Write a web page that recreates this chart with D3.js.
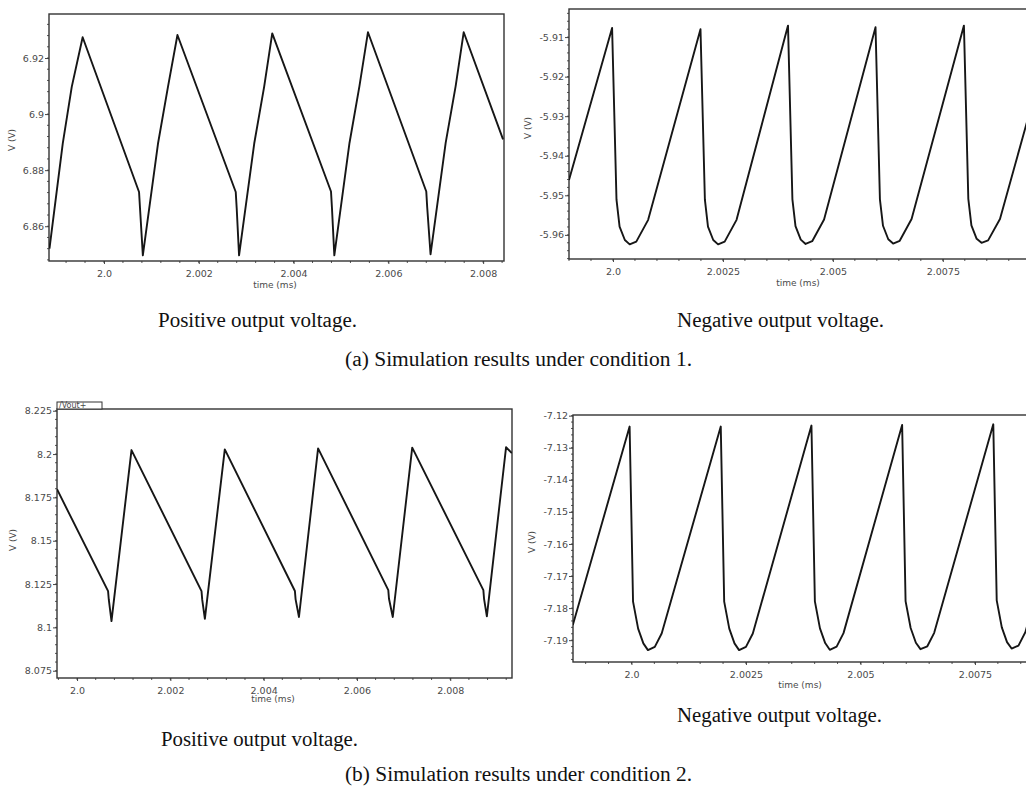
<!DOCTYPE html>
<html>
<head>
<meta charset="utf-8">
<script src="https://cdn.jsdelivr.net/npm/d3@7.9.0/dist/d3.min.js"></script>
<style>
  body { margin: 0; background: #fff; }
  svg { display: block; }
  .tick text { font-family: "DejaVu Sans", sans-serif; font-size: 9.5px; fill: #4a4a4a; }
  .tick line { stroke: #444; }
  .axis-title { font-family: "DejaVu Sans", sans-serif; font-size: 9px; fill: #4a4a4a; }
  .caption { font-family: "Liberation Serif", "Times New Roman", serif; font-size: 20px; fill: #111; }
</style>
</head>
<body>
<svg id="fig" width="1026" height="787"></svg>
<script>
// (a) condition 1, positive output (time in ms, volts)
const posTime1 = [1.99885, 1.99913, 1.99932, 1.99955, 2.00074, 2.00076, 2.00082, 2.00114, 2.00135, 2.00155,
  2.00278, 2.00280, 2.00285, 2.00317, 2.00338, 2.00355, 2.00479, 2.00481, 2.00486, 2.00518, 2.00539, 2.00557,
  2.00680, 2.00682, 2.00689, 2.00721, 2.00742, 2.00759, 2.00842];
const posVolt1 = [6.852, 6.8895, 6.9097, 6.9274, 6.8722, 6.8665, 6.8496, 6.8895, 6.9097, 6.9282,
  6.8722, 6.8665, 6.8496, 6.8895, 6.9098, 6.9288, 6.8724, 6.8666, 6.8496, 6.8897, 6.9100, 6.9292,
  6.8724, 6.8667, 6.8500, 6.8898, 6.9100, 6.9292, 6.8910];

// (a) condition 1, negative output
const negTime1 = [1.99900, 1.99998, 2.00008, 2.00015, 2.00027, 2.00038, 2.00053, 2.00080,
  2.00199, 2.00209, 2.00216, 2.00228, 2.00239, 2.00254, 2.00281,
  2.00398, 2.00408, 2.00415, 2.00427, 2.00438, 2.00453, 2.00480,
  2.00597, 2.00607, 2.00614, 2.00626, 2.00637, 2.00652, 2.00679,
  2.00798, 2.00808, 2.00815, 2.00827, 2.00838, 2.00853, 2.00880, 2.00950];
const negVolt1 = [-5.9461, -5.9077, -5.9511, -5.9579, -5.9613, -5.9624, -5.9617, -5.9562,
  -5.9080, -5.9511, -5.9579, -5.9613, -5.9624, -5.9617, -5.9562,
  -5.9071, -5.9510, -5.9578, -5.9612, -5.9623, -5.9616, -5.9561,
  -5.9075, -5.9510, -5.9577, -5.9611, -5.9622, -5.9615, -5.9560,
  -5.9071, -5.9509, -5.9576, -5.9610, -5.9620, -5.9614, -5.9560, -5.9280];

// (b) condition 2, positive output
const posTime2 = [1.99957, 2.000665, 2.00068, 2.000738, 2.001167, 2.002668, 2.002683, 2.00274, 2.003167,
  2.00467, 2.004685, 2.004757, 2.005167, 2.006672, 2.006687, 2.006768, 2.007185,
  2.00871, 2.008725, 2.008785, 2.009197, 2.00932];
const posVolt2 = [8.1797, 8.1209, 8.1161, 8.1036, 8.2023, 8.1209, 8.1160, 8.1049, 8.2027,
  8.1210, 8.1162, 8.1060, 8.2033, 8.1215, 8.1165, 8.1060, 8.2037,
  8.1215, 8.1165, 8.1064, 8.2040, 8.2005];

// (b) condition 2, negative output
const negTime2 = [1.99872, 1.99996, 2.000035, 2.000146, 2.00026, 2.00036, 2.00051, 2.00066,
  2.00195, 2.002025, 2.002136, 2.00225, 2.00235, 2.00250, 2.00265,
  2.00393, 2.004005, 2.004116, 2.00423, 2.00433, 2.00448, 2.00463,
  2.00591, 2.005985, 2.006096, 2.00621, 2.00631, 2.00646, 2.00661,
  2.00790, 2.007975, 2.008086, 2.00820, 2.00830, 2.00845, 2.00860, 2.00890];
const negVolt2 = [-7.1853, -7.1234, -7.1780, -7.1864, -7.1910, -7.1931, -7.1921, -7.1879,
  -7.1234, -7.1780, -7.1864, -7.1910, -7.1931, -7.1921, -7.1879,
  -7.1231, -7.1779, -7.1863, -7.1909, -7.1930, -7.1920, -7.1878,
  -7.1229, -7.1778, -7.1862, -7.1908, -7.1928, -7.1919, -7.1877,
  -7.1227, -7.1776, -7.1860, -7.1906, -7.1926, -7.1917, -7.1875, -7.1730];

// tick values and labels
const xTicksA = [2.0, 2.002, 2.004, 2.006, 2.008];
const xLabelsA = ['2.0', '2.002', '2.004', '2.006', '2.008'];
const xTicksB = [2.0, 2.0025, 2.005, 2.0075];
const xLabelsB = ['2.0', '2.0025', '2.005', '2.0075'];
const yTicks1 = [6.86, 6.88, 6.9, 6.92];
const yLabels1 = ['6.86', '6.88', '6.9', '6.92'];
const yTicks2 = [-5.96, -5.95, -5.94, -5.93, -5.92, -5.91];
const yLabels2 = ['-5.96', '-5.95', '-5.94', '-5.93', '-5.92', '-5.91'];
const yTicks3 = [8.075, 8.1, 8.125, 8.15, 8.175, 8.2, 8.225];
const yLabels3 = ['8.075', '8.1', '8.125', '8.15', '8.175', '8.2', '8.225'];
const yTicks4 = [-7.19, -7.18, -7.17, -7.16, -7.15, -7.14, -7.13, -7.12];
const yLabels4 = ['-7.19', '-7.18', '-7.17', '-7.16', '-7.15', '-7.14', '-7.13', '-7.12'];

const captions = [
  { text: 'Positive output voltage.', x: 158, y: 327, w: 199 },
  { text: 'Negative output voltage.', x: 677, y: 327, w: 207 },
  { text: '(a) Simulation results under condition 1.', x: 345, y: 366, w: 347 },
  { text: 'Negative output voltage.', x: 677, y: 722, w: 205 },
  { text: 'Positive output voltage.', x: 161, y: 746, w: 197 },
  { text: '(b) Simulation results under condition 2.', x: 345, y: 781, w: 347 }
];

const svg = d3.select('#fig');

const panels = [
  { id: 'p1', t: posTime1, v: posVolt1, left: 49, right: 504, top: 14, bottom: 261,
    xDomain: [1.99884, 2.00844], yDomain: [6.8476, 6.9357], xTicks: xTicksA, xLabels: xLabelsA,
    yTicks: yTicks1, yLabels: yLabels1, yMinor: 0.004, xMinor: 0.0004,
    yTitle: [12, 140], xTitle: [275, 288] },
  { id: 'p2', t: negTime1, v: negVolt1, left: 569, right: 1040, top: 9, bottom: 259,
    xDomain: [1.999, 2.00971], yDomain: [-5.9661, -5.9029], xTicks: xTicksB, xLabels: xLabelsB,
    yTicks: yTicks2, yLabels: yLabels2, yMinor: 0.002, xMinor: 0.0005,
    yTitle: [528, 128], xTitle: [798, 286] },
  { id: 'p3', t: posTime2, v: posVolt2, left: 57, right: 512, top: 409, bottom: 678,
    xDomain: [1.99957, 2.009324], yDomain: [8.0708, 8.226], xTicks: xTicksA, xLabels: xLabelsA,
    yTicks: yTicks3, yLabels: yLabels3, yMinor: 0.005, xMinor: 0.0004,
    yTitle: [13, 540], xTitle: [273, 702], tab: '/Vout+' },
  { id: 'p4', t: negTime2, v: negVolt2, left: 573, right: 1040, top: 415, bottom: 662,
    xDomain: [1.998724, 2.00892], yDomain: [-7.1968, -7.1198], xTicks: xTicksB, xLabels: xLabelsB,
    yTicks: yTicks4, yLabels: yLabels4, yMinor: 0.002, xMinor: 0.0005,
    yTitle: [532, 542], xTitle: [800, 688] }
];

panels.forEach(drawPanel);

function drawPanel(p) {
  const x = d3.scaleLinear().domain(p.xDomain).range([p.left, p.right]);
  const y = d3.scaleLinear().domain(p.yDomain).range([p.bottom, p.top]);
  const g = svg.append('g').attr('class', p.id);

  g.append('clipPath').attr('id', 'clip-' + p.id)
    .append('rect')
    .attr('x', p.left).attr('y', p.top)
    .attr('width', p.right - p.left).attr('height', p.bottom - p.top);

  //minor ticks along left and bottom edges
  const yMinor = d3.range(Math.ceil(p.yDomain[0] / p.yMinor) * p.yMinor, p.yDomain[1], p.yMinor);
  g.append('g').selectAll('line').data(yMinor).join('line')
    .attr('x1', p.left - 2).attr('x2', p.left)
    .attr('y1', d => y(d)).attr('y2', d => y(d))
    .attr('stroke', '#555').attr('stroke-width', 1);
  const xMinor = d3.range(Math.ceil(p.xDomain[0] / p.xMinor) * p.xMinor, p.xDomain[1], p.xMinor);
  g.append('g').selectAll('line').data(xMinor).join('line')
    .attr('x1', d => x(d)).attr('x2', d => x(d))
    .attr('y1', p.bottom).attr('y2', p.bottom + 2)
    .attr('stroke', '#555').attr('stroke-width', 1);

  //axes
  g.append('g')
    .attr('transform', `translate(${p.left},0)`)
    .call(d3.axisLeft(y).tickValues(p.yTicks).tickFormat((d, i) => p.yLabels[i]).tickSize(4).tickPadding(1))
    .call(a => a.select('.domain').remove());
  g.append('g')
    .attr('transform', `translate(0,${p.bottom})`)
    .call(d3.axisBottom(x).tickValues(p.xTicks).tickFormat((d, i) => p.xLabels[i]).tickSize(3).tickPadding(6))
    .call(a => a.select('.domain').remove());

  //frame
  g.append('rect')
    .attr('x', p.left).attr('y', p.top)
    .attr('width', p.right - p.left).attr('height', p.bottom - p.top)
    .attr('fill', 'none').attr('stroke', '#333').attr('stroke-width', 1.4);

  //legend tab
  if (p.tab) {
    g.append('rect')
      .attr('x', p.left).attr('y', p.top - 7)
      .attr('width', 45).attr('height', 7)
      .attr('fill', '#fff').attr('stroke', '#333').attr('stroke-width', 1);
    g.append('text')
      .attr('x', p.left + 2).attr('y', p.top - 0.8)
      .attr('class', 'axis-title').style('font-size', '8px')
      .text(p.tab);
  }

  //waveform
  const pts = p.t.map((t, i) => [t, p.v[i]]);
  g.append('path')
    .datum(pts)
    .attr('clip-path', `url(#clip-${p.id})`)
    .attr('fill', 'none')
    .attr('stroke', '#161616')
    .attr('stroke-width', 1.9)
    .attr('stroke-linejoin', 'round')
    .attr('d', d3.line().x(d => x(d[0])).y(d => y(d[1])));

  //axis titles
  g.append('text')
    .attr('class', 'axis-title')
    .attr('transform', `translate(${p.yTitle[0]},${p.yTitle[1]}) rotate(-90)`)
    .attr('text-anchor', 'middle')
    .attr('dy', '0.35em')
    .text('V (V)');
  g.append('text')
    .attr('class', 'axis-title')
    .attr('x', p.xTitle[0]).attr('y', p.xTitle[1])
    .attr('text-anchor', 'middle')
    .text('time (ms)');
}

svg.append('g').selectAll('text').data(captions).join('text')
  .attr('class', 'caption')
  .attr('x', d => d.x).attr('y', d => d.y)
  .attr('textLength', d => d.w)
  .attr('lengthAdjust', 'spacingAndGlyphs')
  .text(d => d.text);
</script>
</body>
</html>
